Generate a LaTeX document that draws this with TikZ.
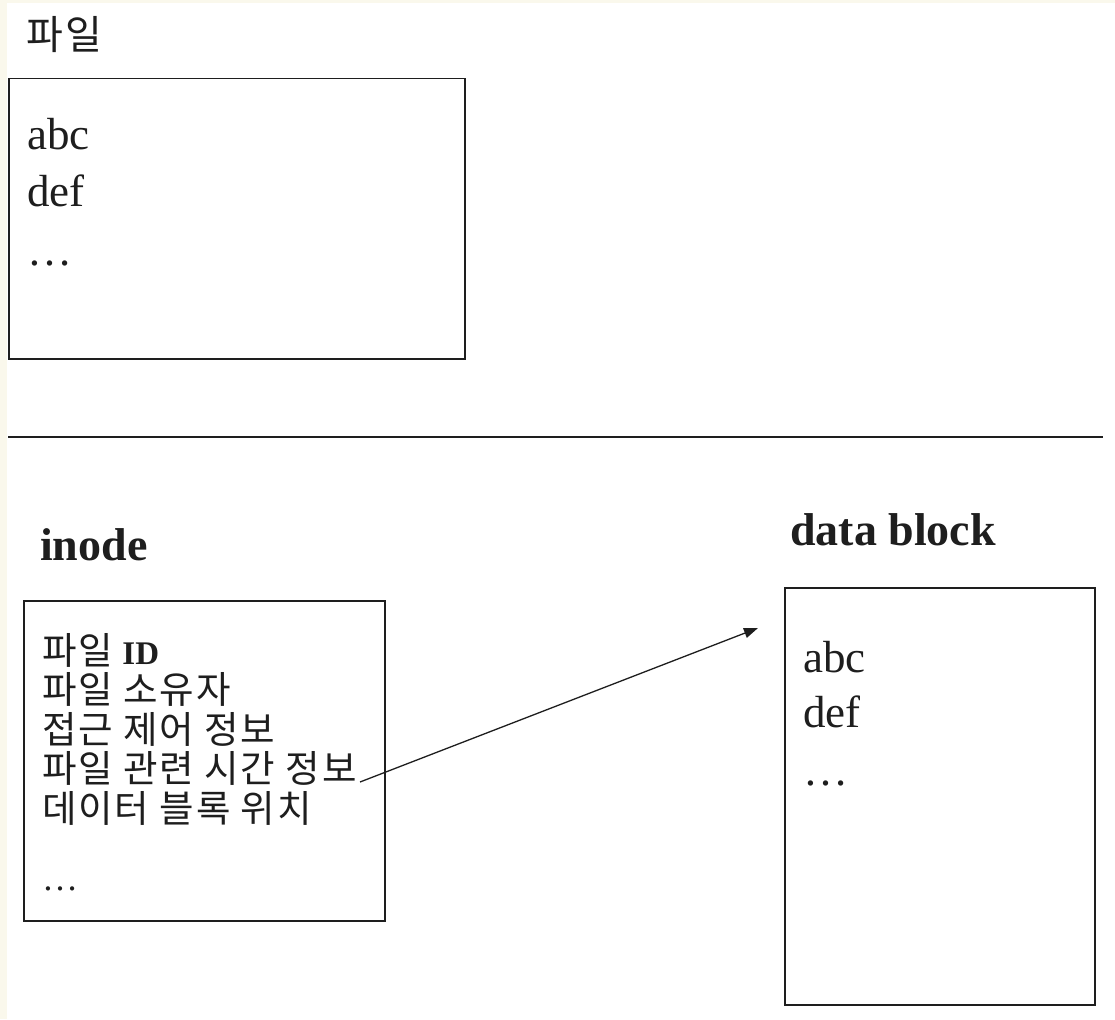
\documentclass[tikz,border=0pt]{standalone}
\usepackage{fontspec}
\setmainfont{Liberation Serif}
\newfontfamily\kor[LetterSpace=5]{Noto Sans CJK KR}
\newfontfamily\korh[LetterSpace=6]{Noto Sans CJK KR}
\usetikzlibrary{arrows.meta}
\definecolor{ink}{RGB}{30,30,30}
\definecolor{cream}{RGB}{250,248,236}
\tikzset{
  boxframe/.style={draw=ink, line width=1.5pt, inner sep=0pt},
  lbl/.style={anchor=base west, inner sep=0pt, text=ink},
  txtbig/.style={lbl, font=\fontsize{45}{50}\selectfont},
  txtkor/.style={lbl, font=\kor\fontsize{37.5}{40}\selectfont},
  txthead/.style={lbl, font=\korh\fontsize{40}{44}\selectfont},
  txtbold/.style={lbl, font=\bfseries\fontsize{46}{50}\selectfont},
  conn/.style={draw=ink, line width=1.3pt, -{Triangle[length=14pt,width=10pt]}}
}
\begin{document}
\begin{tikzpicture}[x=1pt,y=-1pt]
\useasboundingbox (0,0) rectangle (1115,1019);
\fill[white] (0,0) rectangle (1115,1019);
\fill[cream] (0,0) rectangle (7,1019);
\fill[cream] (0,0) rectangle (1115,3);
% top file
\node[txthead] (ftitle) at (26,50) {파일};
\node[boxframe, minimum width=456pt, minimum height=280pt, anchor=north west] (fbox) at (8,78) {};
\node[txtbig] (fa) at (27,150) {abc};
\node[txtbig] (fd) at (27,206) {def};
\node[txtbig] (fe) at (27,265) {\dots};
% separator
\coordinate (sl) at (8,437);
\coordinate (sr) at (1103,437);
\draw[draw=ink, line width=1.5pt] (sl) -- (sr);
% inode
\node[txtbold] (ititle) at (40,560) {inode};
\node[boxframe, minimum width=361pt, minimum height=320pt, anchor=north west] (ibox) at (23,600) {};
\node[txtkor] (i1) at (42,664) {파일\hspace{0.2em}\textrm{\bfseries\fontsize{33}{36}\selectfont ID}};
\node[txtkor] (i2) at (42,703) {파일 소유자};
\node[txtkor] (i3) at (42,743) {접근 제어 정보};
\node[txtkor] (i4) at (42,782) {파일 관련 시간 정보};
\node[txtkor] (i5) at (42,822) {데이터 블록 위치};
\node[lbl, font=\fontsize{36}{40}\selectfont] (i6) at (42,890) {\dots};
% data block
\node[txtbold] (dtitle) at (790,545) {data block};
\node[boxframe, minimum width=310pt, minimum height=417pt, anchor=north west] (dbox) at (784,587) {};
\node[txtbig] (da) at (803,672) {abc};
\node[txtbig] (dd) at (803,727) {def};
\node[txtbig] (de) at (803,785) {\dots};
% arrow
\coordinate (a0) at (360,782);
\coordinate (a1) at (758,628);
\draw[conn] (a0) -- (a1);
\end{tikzpicture}
\end{document}
